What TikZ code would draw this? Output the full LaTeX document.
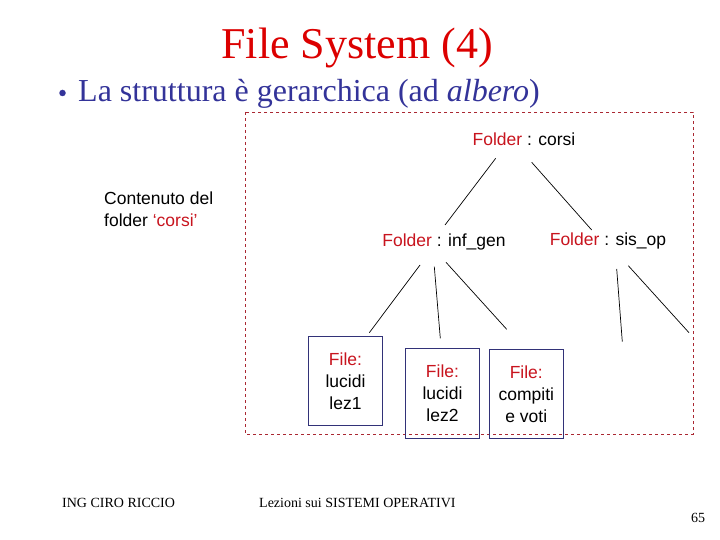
\documentclass[tikz,border=0pt]{standalone}
\usepackage{fontspec}
\setmainfont{Liberation Serif}
\setsansfont{Liberation Sans}
\definecolor{titred}{RGB}{220,0,0}
\definecolor{navy}{RGB}{51,51,153}
\definecolor{fred}{RGB}{200,20,30}
\definecolor{dashred}{RGB}{170,40,50}
\definecolor{boxblue}{RGB}{50,50,120}
\begin{document}
\begin{tikzpicture}[x=1pt,y=-1pt,
  lbl/.style={font=\sffamily\fontsize{17.5}{22}\selectfont, inner sep=0pt, align=center},
  filebox/.style={draw=boxblue, line width=0.9pt, inner sep=0pt},
  tline/.style={line width=0.7pt, black},
  foot/.style={font=\fontsize{14}{16}\selectfont, inner sep=0pt, anchor=west}]
\useasboundingbox (0,0) rectangle (720,540);
\fill[white] (0,0) rectangle (720,540);
% title
\node[text=titred, font=\fontsize{44}{50}\selectfont, inner sep=0pt] (title) at (357,48) {File System (4)};
\node[fill=navy, circle, inner sep=0pt, minimum size=6.5pt] (bulletdot) at (62.5,93) {};
\node[text=navy, font=\fontsize{32}{36}\selectfont, inner sep=0pt, anchor=west] (bullet) at (78,94) {La struttura è gerarchica (ad \textit{albero})};
% dashed frame
\draw[dashred, dashed, line width=0.8pt] (245,112) rectangle (693,434);
% folders
\node[lbl] (corsi) at (524,139) {\textcolor{fred}{Folder} : corsi};
\node[lbl] (infgen) at (444,242) {\textcolor{fred}{Folder} : inf\_gen};
\node[lbl] (sisop) at (608,241) {\textcolor{fred}{Folder} : sis\_op};
\node[lbl, anchor=north west, align=left] (cont) at (104,192) {Contenuto del\\folder \textcolor{fred}{‘corsi’}};
% file boxes
\node[filebox, minimum width=74pt, minimum height=89pt] (f1) at (345.5,381.3) {};
\node[lbl] (f1t) at (f1.center) {\textcolor{fred}{File:}\\lucidi\\lez1};
\node[filebox, minimum width=74pt, minimum height=90pt] (f2) at (442.5,393.3) {};
\node[lbl] (f2t) at (f2.center) {\textcolor{fred}{File:}\\lucidi\\lez2};
\node[filebox, minimum width=74pt, minimum height=89pt] (f3) at (526.3,393.8) {};
\node[lbl] (f3t) at (f3.center) {\textcolor{fred}{File:}\\compiti\\ e voti};
% connectors
\coordinate (c1a) at (495.7,158.3); \coordinate (c1b) at (445,225);
\coordinate (c2a) at (531.7,162.3); \coordinate (c2b) at (591.7,230);
\coordinate (i1a) at (420,265); \coordinate (i1b) at (369.3,332.7);
\coordinate (i2a) at (434.3,266.7); \coordinate (i2b) at (440.3,338.3);
\coordinate (i3a) at (446,262.3); \coordinate (i3b) at (506.7,329.3);
\coordinate (s1a) at (616.7,269); \coordinate (s1b) at (622.3,341.7);
\coordinate (s2a) at (628.3,265.7); \coordinate (s2b) at (689,332.7);
\draw[tline] (c1a) -- (c1b);
\draw[tline] (c2a) -- (c2b);
\draw[tline] (i1a) -- (i1b);
\draw[tline] (i2a) -- (i2b);
\draw[tline] (i3a) -- (i3b);
\draw[tline] (s1a) -- (s1b);
\draw[tline] (s2a) -- (s2b);
% footer
\node[foot] (author) at (62,503) {ING CIRO RICCIO};
\node[foot] (course) at (259,503) {Lezioni sui SISTEMI OPERATIVI};
\node[foot, anchor=center] (page) at (698,518) {65};
\end{tikzpicture}
\end{document}
